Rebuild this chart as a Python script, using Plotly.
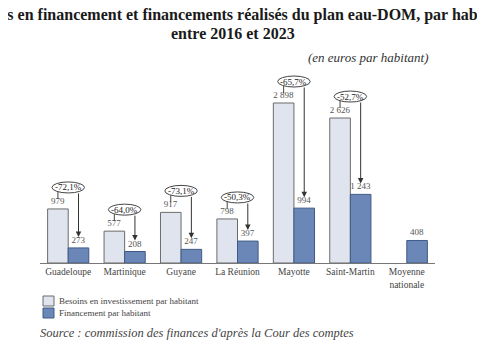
import plotly.graph_objects as go

# ---- data ----
categories = ["Guadeloupe", "Martinique", "Guyane", "La Réunion", "Mayotte", "Saint-Martin", "Moyenne<br>nationale"]
besoins = [979, 577, 917, 798, 2898, 2626, None]
financement = [273, 208, 247, 397, 994, 1243, 408]
ecarts = ["-72,1%", "-64,0%", "-73,1%", "-50,3%", "-65,7%", "-52,7%"]
series_names = ["Besoins en investissement par habitant", "Financement par habitant"]

title_line1 = "Besoins en financement et financements réalisés du plan eau-DOM, par habitant"
title_line2 = "entre 2016 et 2023"
subtitle = "(en euros par habitant)"
source = "Source : commission des finances d'après la Cour des comptes"

# ---- geometry (page pixels; the page body has an 8px margin) ----
OFF = 8
W, H = 485 - OFF, 360 - OFF
PLOT_L, PLOT_R, PLOT_T, PLOT_B = 40, 435, 70, 263  # page px
ML, MR, MT, MB = PLOT_L - OFF, (W + OFF) - PLOT_R, PLOT_T - OFF, (H + OFF) - PLOT_B
PH = PLOT_B - PLOT_T
PW = PLOT_R - PLOT_L
Y_MAX = 3496
PX = Y_MAX / PH  # data units per pixel
CATW = PW / len(categories)
BARGAP = 0.27
HALF = (1 - BARGAP) / 4

SERIF = "Liberation Serif"
LIGHT = "#dfe4ee"
DARK = "#6a87b8"
LIGHT_LINE = "#6b6b6b"
DARK_LINE = "#3f5a86"

def fmt(v):
    return "" if v is None else f"{v:,}".replace(",", " ")

def py(ypx):
    return (PLOT_B - ypx) / PH

def pxx(xpx):
    return (xpx - PLOT_L) / PW

fig = go.Figure()
fig.add_trace(go.Bar(
    x=list(range(len(categories))), y=besoins, name=series_names[0],
    marker=dict(color=LIGHT, line=dict(color=LIGHT_LINE, width=1)),
    text=[fmt(v) for v in besoins], textposition="outside", constraintext="none",
    textfont=dict(family=SERIF, size=9, color="#555555"), cliponaxis=False,
))
fig.add_trace(go.Bar(
    x=list(range(len(categories))), y=financement, name=series_names[1],
    marker=dict(color=DARK, line=dict(color=DARK_LINE, width=1)),
    text=[fmt(v) for v in financement], textposition="outside", constraintext="none",
    textfont=dict(family=SERIF, size=9, color="#555555"), cliponaxis=False,
))

shapes = []
annotations = []
ell_w = 32.5 / CATW
ell_h = 11 * PX
for i, pct in enumerate(ecarts):
    b, f = besoins[i], financement[i]
    cy = b + 21.5 * PX
    shapes.append(dict(type="circle", xref="x", yref="y",
                       x0=i - ell_w / 2, x1=i + ell_w / 2, y0=cy - ell_h / 2, y1=cy + ell_h / 2,
                       line=dict(color="#444444", width=1), fillcolor="white", layer="above"))
    annotations.append(dict(x=i, y=cy, xref="x", yref="y", text=pct, showarrow=False,
                            font=dict(family=SERIF, size=9, color="#222222")))
    shapes.append(dict(type="line", xref="x", yref="y",
                       x0=i - HALF, x1=i - HALF, y0=cy - 4.5 * PX, y1=b + 10 * PX,
                       line=dict(color="#444444", width=1)))
    annotations.append(dict(x=i + HALF, y=f + 11 * PX, ax=i + HALF, ay=cy - 4.5 * PX,
                            xref="x", yref="y", axref="x", ayref="y", text="",
                            showarrow=True, arrowhead=2, arrowsize=1.1, arrowwidth=1,
                            arrowcolor="#333333"))

# legend (drawn as swatches + labels under the chart)
leg_rows = [(296, LIGHT, LIGHT_LINE), (308, DARK, DARK_LINE)]
for (ytop, fill, line), name in zip(leg_rows, series_names):
    shapes.append(dict(type="rect", xref="paper", yref="paper",
                       x0=pxx(43), x1=pxx(54), y0=py(ytop), y1=py(ytop + 10),
                       fillcolor=fill, line=dict(color=line, width=1)))
    annotations.append(dict(xref="paper", yref="paper", x=pxx(57), y=py(ytop + 5), text=name,
                            showarrow=False, xanchor="left", yanchor="middle",
                            font=dict(family=SERIF, size=9, color="#444444")))

annotations += [
    dict(xref="paper", yref="paper", x=pxx(236), y=py(15), text="<b>" + title_line1 + "</b>",
         showarrow=False, xanchor="center", yanchor="middle",
         font=dict(family=SERIF, size=16, color="#1a1a1a")),
    dict(xref="paper", yref="paper", x=pxx(233), y=py(33), text="<b>" + title_line2 + "</b>",
         showarrow=False, xanchor="center", yanchor="middle",
         font=dict(family=SERIF, size=16, color="#1a1a1a")),
    dict(xref="paper", yref="paper", x=pxx(430), y=py(57), text="<i>" + subtitle + "</i>",
         showarrow=False, xanchor="right", yanchor="middle",
         font=dict(family=SERIF, size=13, color="#333333")),
    dict(xref="paper", yref="paper", x=pxx(38), y=py(333), text="<i>" + source + "</i>",
         showarrow=False, xanchor="left", yanchor="middle",
         font=dict(family=SERIF, size=12.5, color="#444444")),
]

fig.update_layout(
    width=W, height=H, autosize=False,
    margin=dict(l=ML, r=MR, t=MT, b=MB, autoexpand=False),
    paper_bgcolor="white", plot_bgcolor="white",
    barmode="group", bargap=BARGAP, bargroupgap=0,
    showlegend=False,
    xaxis=dict(tickmode="array", tickvals=list(range(len(categories))), ticktext=categories,
               range=[-0.5, len(categories) - 0.5], showline=True, linecolor="#777777", linewidth=1,
               ticks="", showgrid=False, zeroline=False, automargin=False,
               tickfont=dict(family=SERIF, size=9.5, color="#444444")),
    yaxis=dict(range=[0, Y_MAX], visible=False, showgrid=False, zeroline=False, automargin=False),
    shapes=shapes, annotations=annotations,
    font=dict(family=SERIF),
)

fig.write_html("out.html")
